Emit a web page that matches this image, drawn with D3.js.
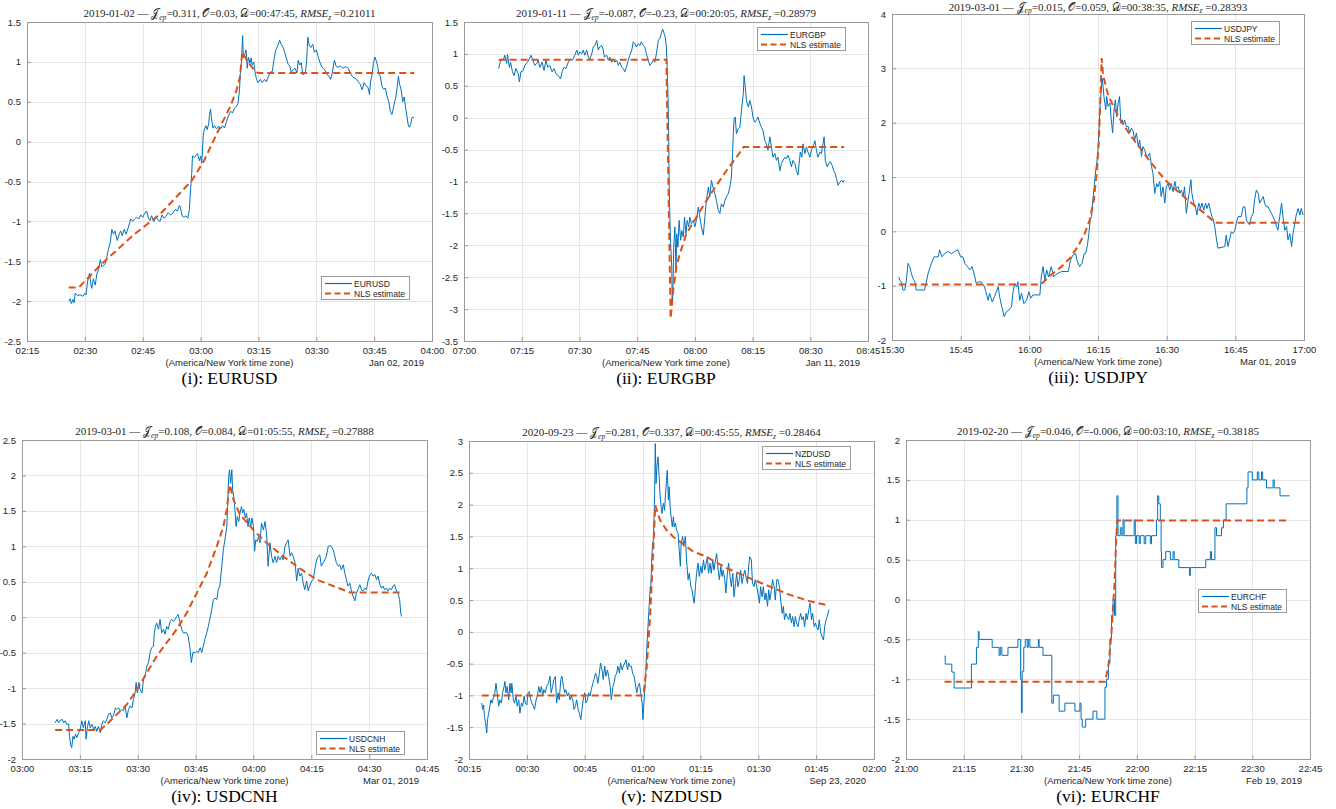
<!DOCTYPE html>
<html>
<head>
<meta charset="utf-8">
<script src="https://cdn.jsdelivr.net/npm/d3@7"></script>
<style>
  body { margin: 0; background: #fff; }
  .tick text { font-family: "Liberation Sans", Arial, Helvetica, sans-serif; font-size: 9.5px; fill: #262626; }
  .lbl { font-family: "Liberation Sans", Arial, Helvetica, sans-serif; font-size: 9.5px; fill: #262626; }
  .ttl { font-family: "Liberation Serif", "Times New Roman", serif; font-size: 11px; fill: #262626; }
  .cap { font-family: "Liberation Serif", "Times New Roman", serif; font-size: 17.5px; fill: #000; }
  .leg { font-family: "Liberation Sans", Arial, Helvetica, sans-serif; font-size: 8.5px; fill: #262626; }
</style>
</head>
<body>
<svg id="chart" width="1336" height="809"></svg>
<script>
// ---- data: [minutes after axis start, standardized value] ----
var pairNames = ["EURUSD", "EURGBP", "USDJPY", "USDCNH", "NZDUSD", "EURCHF"];
var romans = ["i", "ii", "iii", "iv", "v", "vi"];
var titleDates = ["2019-01-02", "2019-01-11", "2019-03-01", "2019-03-01", "2020-09-23", "2019-02-20"];
var jepVals = ["0.311", "-0.087", "0.015", "0.108", "0.281", "0.046"];
var oVals = ["0.03", "-0.23", "0.059", "0.084", "0.337", "-0.006"];
var dVals = ["00:47:45", "00:20:05", "00:38:35", "01:05:55", "00:45:55", "00:03:10"];
var rmseVals = ["0.21011", "0.28979", "0.28393", "0.27888", "0.28464", "0.38185"];
var axisDates = ["Jan 02, 2019", "Jan 11, 2019", "Mar 01, 2019", "Mar 01, 2019", "Sep 23, 2020", "Feb 19, 2019"];
var axisStarts = ["2019-01-02T02:15", "2019-01-11T07:00", "2019-03-01T15:30", "2019-03-01T03:00", "2020-09-23T00:15", "2019-02-19T21:00"];
var axisSpans = [105, 105, 90, 105, 105, 105];

var yTicks = [
  [-2.5, -2, -1.5, -1, -0.5, 0, 0.5, 1, 1.5],
  [-3.5, -3, -2.5, -2, -1.5, -1, -0.5, 0, 0.5, 1, 1.5],
  [-2, -1, 0, 1, 2, 3, 4],
  [-2, -1.5, -1, -0.5, 0, 0.5, 1, 1.5, 2, 2.5],
  [-2, -1.5, -1, -0.5, 0, 0.5, 1, 1.5, 2, 2.5, 3],
  [-2, -1.5, -1, -0.5, 0, 0.5, 1, 1.5, 2]
];

var eurusd = [[10.8,-2.0],[11.2,-1.97],[11.5,-2.03],[11.9,-1.98],[12.2,-2.02],[12.5,-1.9],[13.1,-1.93],[13.8,-1.92],[14.5,-1.94],[15.0,-1.9],[15.3,-1.92],[15.7,-1.76],[16.2,-1.65],[16.6,-1.8],[16.8,-1.84],[17.2,-1.72],[17.7,-1.8],[18.1,-1.66],[18.6,-1.6],[19.0,-1.48],[19.4,-1.57],[19.8,-1.55],[20.3,-1.53],[20.7,-1.45],[21.1,-1.35],[21.6,-1.26],[22.0,-1.1],[22.4,-1.16],[22.8,-1.12],[23.4,-1.24],[24.0,-1.15],[24.3,-1.12],[24.7,-1.18],[25.2,-1.1],[25.7,-1.16],[26.3,-1.07],[26.9,-0.97],[27.4,-1.0],[27.9,-0.97],[28.4,-0.95],[29.0,-0.97],[29.5,-0.92],[30.0,-0.95],[30.4,-0.91],[31.0,-0.87],[31.5,-0.96],[31.9,-0.99],[32.3,-0.93],[32.9,-1.0],[33.4,-0.94],[33.9,-0.98],[34.5,-1.0],[35.0,-0.92],[35.5,-0.96],[36.0,-0.94],[36.6,-0.89],[37.2,-0.92],[37.8,-0.9],[38.4,-0.85],[39.0,-0.87],[39.5,-0.8],[39.8,-0.83],[40.2,-0.93],[40.7,-0.95],[41.2,-0.93],[41.7,-0.96],[42.1,-0.85],[42.3,-0.68],[42.7,-0.4],[42.9,-0.18],[43.4,-0.2],[43.8,-0.17],[44.2,-0.15],[44.7,-0.24],[45.0,-0.18],[45.3,-0.27],[45.7,0.08],[46.0,0.16],[46.4,0.2],[46.7,0.15],[47.1,0.22],[47.3,0.33],[47.6,0.41],[47.8,0.3],[48.2,0.17],[48.6,0.2],[49.1,0.16],[49.7,0.19],[50.2,0.16],[50.7,0.2],[51.2,0.17],[51.7,0.25],[52.2,0.32],[52.8,0.38],[53.3,0.36],[53.8,0.42],[54.3,0.44],[54.7,0.48],[55.1,0.65],[55.3,0.85],[55.6,1.0],[55.9,1.33],[56.1,1.05],[56.5,1.1],[56.8,1.15],[57.1,0.92],[57.4,1.06],[57.8,0.98],[58.1,1.05],[58.4,0.96],[58.8,1.0],[59.1,0.88],[59.5,0.78],[59.9,0.74],[60.5,0.78],[61.0,0.74],[61.6,0.78],[62.1,0.75],[62.6,0.82],[63.1,0.87],[63.6,0.88],[64.1,1.05],[64.5,1.15],[65.0,1.2],[65.5,1.27],[65.9,1.22],[66.4,1.18],[66.8,1.12],[67.2,1.05],[67.7,0.97],[68.1,0.95],[68.5,0.87],[69.0,0.9],[69.5,0.92],[70.0,0.86],[70.3,1.02],[70.7,0.96],[71.1,0.99],[71.5,0.84],[71.9,0.85],[72.2,0.88],[72.5,1.0],[72.8,1.31],[73.2,1.2],[73.6,1.18],[74.1,1.22],[74.5,1.12],[75.0,1.15],[75.4,1.08],[75.9,1.0],[76.3,0.95],[76.7,0.92],[77.2,0.9],[77.8,0.84],[78.3,0.82],[78.7,0.78],[79.1,0.85],[79.7,1.02],[80.1,0.95],[80.6,0.93],[81.2,0.95],[81.9,0.92],[82.6,0.94],[83.3,0.92],[83.8,0.86],[84.3,0.82],[84.8,0.8],[85.3,0.79],[85.9,0.75],[86.4,0.72],[86.9,0.65],[87.4,0.74],[87.9,0.7],[88.4,0.68],[88.8,0.59],[89.1,0.76],[89.5,0.85],[89.8,0.98],[90.2,1.06],[90.5,1.02],[90.9,0.95],[91.2,0.85],[91.6,0.82],[92.0,0.7],[92.4,0.66],[92.9,0.67],[93.4,0.56],[93.8,0.5],[94.2,0.38],[94.6,0.34],[94.9,0.4],[95.3,0.5],[95.6,0.55],[96.0,0.7],[96.3,0.82],[96.6,0.72],[97.0,0.65],[97.4,0.5],[97.8,0.56],[98.1,0.45],[98.4,0.35],[98.8,0.22],[99.1,0.18],[99.5,0.22],[99.8,0.3],[100.4,0.31]];
var eurusdFit = [[10.8,-1.83],[13.4,-1.83],[19.0,-1.55],[27.6,-1.17],[34.5,-0.91],[42.7,-0.49],[45.9,-0.24],[49.6,0.14],[52.6,0.43],[54.3,0.64],[55.2,0.81],[55.8,1.12],[57.3,1.0],[59.0,0.89],[59.9,0.86],[100.4,0.86]];

var eurgbp = [[9.0,0.77],[9.4,0.87],[9.8,0.92],[10.2,0.9],[10.6,0.98],[11.1,0.85],[11.3,0.99],[11.8,0.79],[12.1,0.87],[12.6,0.72],[13.0,0.66],[13.5,0.77],[14.1,0.69],[14.4,0.56],[14.8,0.72],[15.4,0.74],[15.8,0.82],[16.5,0.87],[17.0,0.92],[17.4,0.98],[17.8,0.92],[18.4,0.82],[18.9,0.85],[19.3,0.9],[19.7,0.79],[20.3,0.87],[20.8,0.74],[21.3,0.9],[21.8,0.79],[22.3,0.82],[22.9,0.72],[23.4,0.77],[23.9,0.69],[24.5,0.66],[25.1,0.61],[25.5,0.72],[26.0,0.79],[26.5,0.77],[27.1,0.87],[27.7,0.92],[28.2,0.9],[28.8,0.98],[29.3,1.06],[29.7,0.98],[30.1,1.03],[30.6,1.0],[31.0,1.06],[31.4,0.98],[31.9,1.06],[32.3,0.95],[32.7,0.92],[33.2,1.0],[33.6,1.11],[34.0,1.13],[34.5,1.21],[34.9,1.06],[35.3,1.11],[35.8,1.13],[36.2,1.06],[36.5,0.95],[37.1,0.98],[37.5,0.9],[37.9,0.95],[38.4,0.87],[38.8,0.92],[39.2,0.87],[39.7,0.9],[40.1,0.82],[40.5,0.87],[41.0,0.79],[41.4,0.77],[41.8,0.72],[42.2,0.79],[42.7,0.9],[43.1,0.98],[43.6,1.06],[44.0,1.19],[44.4,1.16],[44.8,1.11],[45.3,1.16],[45.7,1.13],[46.1,1.19],[46.6,1.13],[47.0,1.11],[47.4,1.0],[47.9,0.9],[48.3,0.82],[48.7,0.85],[49.2,0.9],[49.6,0.87],[50.0,1.0],[50.5,1.21],[50.9,1.24],[51.3,1.32],[51.6,1.39],[51.9,1.34],[52.3,1.26],[52.6,1.11],[52.8,0.79],[53.0,0.38],[53.2,-0.25],[53.3,-0.88],[53.35,-1.14],[53.5,-1.56],[53.7,-1.97],[54.0,-2.34],[54.1,-2.86],[54.3,-2.76],[54.5,-2.03],[54.8,-1.71],[55.1,-2.4],[55.3,-1.82],[55.6,-2.03],[55.9,-1.61],[56.3,-1.92],[56.6,-1.77],[57.0,-1.87],[57.3,-1.56],[57.7,-1.82],[58.0,-1.61],[58.4,-1.71],[58.7,-1.56],[59.1,-1.66],[59.6,-1.61],[60.0,-1.71],[60.4,-1.61],[60.9,-1.4],[61.3,-1.56],[61.7,-1.71],[62.2,-1.84],[62.6,-1.56],[63.0,-1.3],[63.5,-1.09],[63.9,-1.24],[64.3,-0.98],[64.8,-1.11],[65.2,-1.19],[65.6,-1.3],[66.1,-1.45],[66.5,-1.5],[66.9,-1.35],[67.4,-1.4],[67.8,-1.3],[68.2,-1.24],[68.7,-1.19],[69.1,-1.09],[69.5,-0.93],[69.8,-0.56],[70.0,-0.25],[70.2,-0.02],[70.5,0.01],[70.8,-0.25],[71.3,-0.17],[71.7,-0.15],[72.1,0.11],[72.6,0.38],[72.8,0.66],[73.1,0.48],[73.4,0.27],[73.9,0.17],[74.3,0.27],[74.7,0.17],[75.2,-0.02],[75.6,-0.07],[76.0,-0.04],[76.4,0.01],[76.9,-0.09],[77.3,-0.15],[77.7,-0.2],[78.2,-0.36],[78.6,-0.41],[79.0,-0.51],[79.5,-0.3],[79.9,-0.46],[80.3,-0.62],[80.8,-0.56],[81.2,-0.67],[81.6,-0.62],[82.1,-0.83],[82.5,-0.72],[82.9,-0.67],[83.4,-0.62],[83.8,-0.64],[84.2,-0.59],[84.7,-0.67],[85.1,-0.77],[85.5,-0.67],[86.0,-0.72],[86.4,-0.83],[86.8,-0.9],[87.1,-0.72],[87.4,-0.54],[87.8,-0.62],[88.1,-0.41],[88.6,-0.56],[89.0,-0.46],[89.4,-0.54],[89.9,-0.62],[90.3,-0.51],[90.7,-0.46],[91.2,-0.36],[91.6,-0.51],[92.0,-0.62],[92.5,-0.54],[92.9,-0.56],[93.3,-0.41],[93.6,-0.3],[93.9,-0.67],[94.4,-0.77],[94.8,-0.72],[95.2,-0.69],[95.7,-0.75],[96.1,-0.83],[96.5,-0.88],[96.9,-0.98],[97.2,-1.06],[97.7,-1.01],[98.1,-0.98],[98.5,-1.01],[98.8,-0.98]];
var eurgbpFit = [[9.0,0.91],[52.6,0.91],[53.7,-3.15],[54.4,-2.7],[55.2,-2.34],[56.1,-2.13],[57.8,-1.82],[59.6,-1.64],[61.3,-1.47],[63.0,-1.3],[65.6,-1.06],[68.2,-0.83],[70.8,-0.62],[72.7,-0.46],[98.8,-0.46]];

var usdjpy = [[1.5,-0.84],[1.7,-0.9],[2.0,-0.93],[2.4,-1.08],[2.8,-1.08],[3.1,-0.93],[3.5,-0.59],[3.9,-0.65],[4.2,-0.77],[4.6,-0.87],[5.0,-0.93],[5.3,-1.08],[7.1,-1.08],[7.5,-0.93],[7.9,-0.77],[8.6,-0.59],[9.2,-0.47],[10.1,-0.47],[10.4,-0.34],[10.9,-0.47],[11.5,-0.41],[12.2,-0.37],[13.0,-0.41],[13.7,-0.37],[14.4,-0.34],[15.0,-0.47],[15.5,-0.47],[15.9,-0.59],[16.5,-0.65],[17.0,-0.71],[17.5,-0.65],[18.1,-0.84],[18.4,-0.96],[18.8,-0.93],[19.5,-0.93],[20.2,-1.02],[21.0,-1.27],[21.3,-1.14],[21.9,-1.3],[22.4,-1.2],[23.2,-1.02],[23.5,-1.2],[24.0,-1.39],[24.5,-1.57],[25.0,-1.48],[25.5,-1.45],[26.1,-1.39],[26.4,-1.14],[26.8,-0.96],[27.2,-1.02],[27.5,-0.93],[27.9,-1.27],[28.3,-1.14],[28.8,-1.33],[29.4,-1.27],[29.9,-1.11],[30.3,-1.23],[30.8,-1.17],[32.3,-1.17],[32.6,-0.84],[33.0,-0.65],[33.4,-0.9],[33.8,-0.71],[34.2,-0.84],[34.8,-0.65],[35.3,-0.84],[35.7,-0.8],[37.0,-0.74],[38.5,-0.74],[39.0,-0.53],[39.5,-0.44],[40.1,-0.41],[40.5,-0.56],[41.0,-0.65],[41.5,-0.59],[42.0,-0.41],[42.3,-0.41],[42.7,-0.25],[43.0,-0.04],[43.3,0.21],[43.6,0.27],[43.8,0.52],[44.1,0.76],[44.3,0.95],[44.6,1.19],[44.8,1.31],[45.0,1.5],[45.2,1.81],[45.4,2.24],[45.7,2.6],[45.9,2.82],[46.1,2.67],[46.3,2.48],[46.5,2.36],[46.7,2.24],[46.9,2.48],[47.2,2.3],[47.6,2.36],[47.9,2.05],[48.2,1.81],[48.5,2.24],[48.8,2.42],[49.1,2.11],[49.4,2.36],[49.7,2.48],[50.0,1.99],[50.3,2.05],[50.5,1.96],[50.8,2.05],[51.2,1.93],[51.6,1.93],[51.9,1.81],[52.3,1.9],[52.7,1.84],[53.0,1.68],[53.4,1.81],[53.8,1.56],[54.1,1.68],[54.5,1.38],[54.8,1.56],[55.2,1.5],[55.6,1.38],[55.9,1.38],[56.3,1.44],[56.7,1.19],[57.0,1.07],[57.4,0.7],[57.8,0.88],[58.1,0.82],[58.5,0.92],[58.8,0.64],[59.2,0.82],[59.6,0.52],[59.9,0.82],[60.3,0.88],[60.7,0.76],[61.0,0.88],[61.4,0.73],[61.8,0.92],[62.1,0.79],[62.5,0.82],[62.9,0.7],[63.2,0.76],[63.6,0.64],[63.9,0.82],[64.3,0.33],[64.7,0.58],[65.0,0.76],[65.3,0.95],[65.5,0.7],[65.9,0.52],[66.3,0.45],[66.6,0.3],[67.0,0.52],[67.4,0.42],[67.7,0.52],[68.1,0.39],[68.5,0.52],[68.8,0.42],[69.2,0.52],[69.6,0.36],[69.9,0.27],[70.2,0.21],[70.5,0.09],[70.9,-0.16],[71.2,-0.31],[72.7,-0.28],[73.0,-0.07],[73.4,-0.28],[73.8,-0.13],[74.1,-0.01],[74.5,-0.04],[74.9,0.02],[75.2,0.15],[75.6,0.27],[76.3,0.27],[76.7,0.45],[77.1,0.45],[77.4,0.21],[77.8,0.15],[78.1,0.12],[78.5,0.27],[78.9,0.33],[79.2,0.58],[79.6,0.76],[80.0,0.7],[80.3,0.52],[80.7,0.58],[81.1,0.64],[81.4,0.52],[81.8,0.45],[82.2,0.45],[82.5,0.39],[82.9,0.33],[83.2,0.27],[83.6,0.21],[84.0,0.09],[84.3,0.02],[84.7,0.27],[85.1,0.52],[85.4,0.27],[85.8,0.02],[86.2,0.09],[86.5,-0.16],[86.9,-0.04],[87.3,-0.28],[87.6,-0.04],[88.0,0.15],[88.3,0.3],[88.7,0.42],[89.1,0.3],[89.4,0.42],[89.8,0.3]];
var usdjpyFit = [[1.5,-0.98],[32.5,-0.98],[34.8,-0.8],[37.0,-0.65],[38.8,-0.5],[40.6,-0.28],[42.1,-0.04],[43.2,0.21],[44.1,0.58],[44.7,1.07],[45.2,1.68],[45.5,2.42],[45.8,3.19],[46.1,2.88],[47.2,2.51],[48.7,2.24],[50.1,2.02],[52.3,1.74],[54.5,1.5],[56.7,1.25],[59.6,0.95],[62.5,0.73],[65.4,0.52],[68.3,0.33],[70.5,0.16],[90.0,0.16]];

var usdcnh = [[8.6,-1.49],[9.1,-1.44],[9.5,-1.49],[9.9,-1.46],[10.4,-1.44],[10.8,-1.49],[11.2,-1.46],[11.6,-1.51],[12.1,-1.51],[12.3,-1.68],[12.7,-1.82],[12.9,-1.84],[13.2,-1.68],[13.5,-1.72],[13.9,-1.65],[14.2,-1.7],[14.7,-1.63],[15.1,-1.58],[15.5,-1.46],[15.9,-1.56],[16.4,-1.46],[16.6,-1.72],[17.0,-1.54],[17.3,-1.46],[17.7,-1.56],[18.1,-1.51],[18.6,-1.58],[19.0,-1.54],[19.4,-1.61],[19.8,-1.54],[20.3,-1.63],[20.7,-1.51],[21.1,-1.46],[21.6,-1.49],[22.0,-1.44],[22.4,-1.37],[22.9,-1.35],[23.3,-1.42],[23.7,-1.39],[24.2,-1.28],[24.6,-1.3],[25.0,-1.28],[25.5,-1.32],[25.9,-1.3],[26.3,-1.32],[26.7,-1.25],[27.2,-1.42],[27.6,-1.3],[28.0,-1.25],[28.5,-1.28],[28.9,-1.16],[29.3,-1.07],[29.6,-0.92],[29.9,-1.07],[30.3,-0.92],[30.6,-1.02],[31.1,-1.07],[31.5,-0.88],[31.9,-0.83],[32.4,-0.69],[32.8,-0.64],[33.2,-0.5],[33.6,-0.43],[34.1,-0.41],[34.3,-0.22],[34.6,-0.13],[34.9,-0.08],[35.4,-0.17],[35.8,-0.03],[36.2,-0.22],[36.7,-0.17],[37.1,-0.24],[37.5,-0.13],[37.9,-0.17],[38.4,-0.06],[38.8,-0.03],[39.3,-0.06],[39.7,-0.03],[40.1,0.01],[40.5,0.04],[40.9,-0.06],[41.4,-0.17],[41.8,-0.22],[42.7,-0.22],[43.1,-0.27],[43.6,-0.46],[43.9,-0.64],[44.3,-0.5],[44.9,-0.5],[45.3,-0.48],[45.7,-0.5],[46.2,-0.43],[46.6,-0.5],[47.0,-0.41],[47.4,-0.31],[47.9,-0.22],[48.3,-0.13],[48.7,-0.03],[49.2,0.11],[49.6,0.25],[50.0,0.27],[50.5,0.25],[50.9,0.39],[51.3,0.44],[51.8,0.72],[52.2,0.95],[52.6,1.09],[53.1,1.28],[53.3,1.56],[53.6,1.99],[53.8,2.08],[54.1,1.89],[54.4,2.08],[54.6,1.8],[55.0,1.66],[55.2,1.52],[55.5,1.28],[55.8,1.42],[56.2,1.35],[56.5,1.47],[56.9,1.56],[57.2,1.47],[57.5,1.52],[57.9,1.4],[58.2,1.47],[58.6,1.28],[58.9,1.4],[59.3,1.28],[59.6,1.4],[60.0,1.28],[60.3,0.93],[60.6,1.09],[61.0,1.07],[61.3,1.14],[61.7,1.05],[62.1,1.33],[62.6,1.23],[63.0,1.35],[63.4,1.19],[63.8,0.72],[64.3,1.05],[64.7,0.86],[65.1,0.77],[65.6,0.86],[66.0,0.77],[66.4,0.86],[66.9,0.81],[67.3,0.86],[67.7,0.81],[68.2,1.0],[68.6,1.05],[69.0,1.09],[69.5,0.86],[69.9,0.91],[70.3,0.86],[70.8,0.77],[71.2,0.51],[71.6,0.69],[72.0,0.58],[72.5,0.62],[72.9,0.48],[73.3,0.39],[73.8,0.51],[74.2,0.37],[74.6,0.44],[75.1,0.51],[75.5,0.53],[75.9,0.67],[76.4,0.81],[76.8,0.86],[77.2,0.88],[77.6,0.72],[78.1,0.77],[78.5,0.81],[78.9,0.86],[79.4,1.0],[79.8,1.01],[80.2,1.0],[80.7,0.95],[81.1,0.86],[81.5,0.77],[82.0,0.72],[82.4,0.74],[82.8,0.67],[83.3,0.74],[83.7,0.62],[84.1,0.53],[84.5,0.44],[85.0,0.48],[85.4,0.37],[85.8,0.3],[86.3,0.23],[86.7,0.34],[87.1,0.39],[87.6,0.46],[88.0,0.39],[88.4,0.37],[88.9,0.41],[89.3,0.39],[89.7,0.51],[90.2,0.6],[90.6,0.62],[91.0,0.58],[91.5,0.6],[91.9,0.53],[92.3,0.58],[92.8,0.46],[93.2,0.41],[93.6,0.44],[94.0,0.39],[94.5,0.41],[94.9,0.37],[95.3,0.41],[95.8,0.39],[96.2,0.44],[96.6,0.46],[97.1,0.37],[97.5,0.34],[97.9,0.25],[98.2,0.06],[98.4,0.01]];
var usdcnhFit = [[8.6,-1.59],[20.3,-1.59],[22.0,-1.51],[24.6,-1.37],[27.2,-1.23],[29.8,-1.02],[32.4,-0.78],[34.9,-0.55],[37.5,-0.36],[40.1,-0.17],[42.7,0.06],[45.3,0.34],[47.9,0.62],[50.5,1.0],[52.2,1.28],[53.1,1.52],[53.7,1.82],[53.9,1.87],[54.8,1.66],[56.5,1.45],[60.0,1.23],[63.4,1.05],[67.7,0.86],[72.0,0.69],[76.4,0.53],[80.7,0.44],[85.0,0.35],[97.9,0.35]];

var nzdusd = [[3.3,-1.12],[3.5,-1.22],[3.8,-1.15],[4.0,-1.33],[4.3,-1.43],[4.6,-1.59],[4.8,-1.38],[5.1,-1.28],[5.4,-1.17],[5.7,-1.07],[6.0,-1.12],[6.3,-1.04],[6.7,-0.96],[7.0,-0.81],[7.3,-0.96],[7.7,-1.17],[8.0,-1.07],[8.4,-1.12],[8.7,-0.96],[9.1,-0.86],[9.3,-0.78],[9.6,-0.96],[9.9,-0.86],[10.3,-1.07],[10.6,-0.81],[10.9,-0.96],[11.1,-0.81],[11.5,-1.07],[11.8,-1.12],[12.2,-1.01],[12.5,-1.17],[12.9,-1.07],[13.2,-1.28],[13.6,-1.12],[13.9,-1.17],[14.3,-1.01],[14.6,-1.12],[15.0,-1.15],[15.3,-0.96],[15.6,-0.94],[16.0,-1.07],[16.3,-1.12],[16.7,-1.17],[17.0,-1.22],[17.4,-1.07],[17.7,-1.01],[18.1,-0.86],[18.4,-0.96],[18.8,-0.86],[19.1,-1.01],[19.4,-0.91],[19.8,-0.96],[20.1,-0.86],[20.6,-0.81],[21.0,-0.7],[21.3,-0.96],[21.7,-0.86],[22.0,-0.75],[22.4,-0.7],[22.7,-1.12],[23.1,-0.96],[23.4,-1.07],[23.8,-0.75],[24.1,-0.7],[24.5,-0.86],[24.8,-0.96],[25.1,-0.91],[25.5,-1.01],[25.8,-0.96],[26.2,-1.07],[26.5,-1.01],[26.9,-1.07],[27.2,-1.22],[27.6,-1.17],[27.9,-1.07],[28.3,-1.22],[28.6,-1.28],[29.0,-1.38],[29.3,-1.22],[29.6,-1.07],[30.0,-0.96],[30.3,-1.12],[30.7,-1.07],[31.0,-0.96],[31.4,-1.01],[31.7,-0.91],[32.1,-0.81],[32.4,-0.75],[32.8,-0.65],[33.1,-0.7],[33.4,-0.81],[33.8,-0.65],[34.1,-0.49],[34.5,-0.6],[34.8,-0.75],[35.2,-0.54],[35.5,-0.7],[35.9,-0.6],[36.2,-0.7],[36.6,-0.86],[36.9,-1.07],[37.3,-0.86],[37.6,-0.81],[37.9,-0.7],[38.3,-0.65],[38.6,-0.54],[39.0,-0.65],[39.3,-0.49],[39.7,-0.6],[40.0,-0.54],[40.4,-0.49],[40.7,-0.44],[41.1,-0.6],[41.4,-0.49],[41.7,-0.54],[42.1,-0.54],[42.4,-0.65],[42.8,-0.7],[43.1,-0.81],[43.5,-0.96],[43.8,-0.86],[44.2,-0.81],[44.5,-0.96],[44.9,-1.12],[45.1,-1.38],[45.4,-1.07],[45.7,-0.81],[45.9,-0.54],[46.2,-0.13],[46.4,0.08],[46.7,0.4],[47.0,0.71],[47.1,0.61],[47.4,1.18],[47.6,1.39],[47.8,1.44],[48.1,2.07],[48.3,2.96],[48.5,2.33],[48.7,2.59],[49.0,2.75],[49.3,2.44],[49.5,2.18],[49.8,1.97],[50.0,1.86],[50.4,2.02],[50.7,1.91],[50.9,2.12],[51.2,2.38],[51.4,2.54],[51.7,2.07],[51.9,2.28],[52.2,1.91],[52.5,1.76],[52.7,1.65],[53.0,1.81],[53.2,1.65],[53.5,1.71],[53.8,1.6],[54.2,1.55],[54.5,1.29],[54.8,1.03],[55.0,1.39],[55.4,1.5],[55.7,1.34],[56.1,1.5],[56.4,1.13],[56.8,0.82],[57.1,0.92],[57.5,0.71],[57.8,0.66],[58.2,0.5],[58.4,0.45],[58.7,0.71],[59.0,0.92],[59.4,1.08],[59.7,0.87],[60.1,1.03],[60.4,0.92],[60.8,1.13],[61.1,0.97],[61.5,1.08],[61.8,1.18],[62.1,0.92],[62.5,1.08],[62.8,0.92],[63.2,1.13],[63.5,0.97],[63.9,1.13],[64.2,1.23],[64.6,0.97],[64.9,0.82],[65.3,1.03],[65.6,0.87],[65.9,0.97],[66.3,0.82],[66.6,0.61],[67.0,0.92],[67.3,1.08],[67.7,0.87],[68.0,0.71],[68.4,0.92],[68.7,0.55],[69.1,0.76],[69.4,0.92],[69.7,0.71],[70.1,0.82],[70.4,0.97],[70.8,0.76],[71.1,0.87],[71.5,0.97],[71.8,0.87],[72.2,0.76],[72.5,1.03],[72.8,1.18],[73.2,1.13],[73.5,0.76],[73.9,0.71],[74.2,0.82],[74.6,0.71],[74.9,0.61],[75.3,0.45],[75.6,0.71],[76.0,0.55],[76.3,0.71],[76.7,0.5],[77.0,0.61],[77.4,0.4],[77.7,0.66],[78.0,0.5],[78.4,0.66],[78.7,0.82],[79.1,0.71],[79.4,0.5],[79.8,0.82],[80.1,0.82],[80.5,0.71],[80.8,0.5],[81.2,0.29],[81.5,0.4],[81.8,0.19],[82.2,0.29],[82.5,0.24],[82.9,0.19],[83.2,0.29],[83.6,0.14],[83.9,0.24],[84.3,0.08],[84.6,0.24],[84.9,0.14],[85.3,0.08],[85.6,0.19],[86.0,0.29],[86.3,0.19],[86.7,0.24],[87.0,0.08],[87.4,0.29],[87.7,0.19],[88.1,0.35],[88.4,0.45],[88.8,0.19],[89.1,0.29],[89.5,0.08],[89.8,0.14],[90.1,0.08],[90.5,0.03],[90.8,0.19],[91.2,-0.02],[91.5,-0.07],[91.9,-0.13],[92.2,0.08],[92.6,0.19],[92.9,0.24],[93.3,0.35]];
var nzdusdFit = [[3.3,-1.0],[45.2,-1.0],[46.1,-0.54],[47.0,0.29],[47.8,1.34],[48.3,1.99],[49.5,1.76],[51.2,1.6],[53.0,1.49],[58.2,1.26],[61.6,1.18],[66.8,1.0],[72.9,0.84],[78.0,0.71],[83.2,0.58],[88.4,0.48],[92.7,0.42]];

// EURCHF quotes move in 0.1 steps, so this one is drawn as a step series
var eurchf = [[10.0,-0.71],[10.2,-0.81],[11.9,-0.91],[12.5,-1.11],[17.0,-0.81],[18.3,-0.6],[18.8,-0.4],[19.0,-0.5],[22.4,-0.6],[24.2,-0.7],[24.5,-0.6],[24.9,-0.7],[26.5,-0.6],[29.1,-0.5],[29.8,-1.0],[30.0,-1.42],[30.2,-0.9],[30.6,-0.6],[31.0,-0.5],[31.5,-0.6],[31.8,-0.5],[32.2,-0.6],[34.4,-0.5],[34.6,-0.6],[35.6,-0.7],[37.9,-1.3],[38.3,-1.2],[39.8,-1.4],[41.3,-1.3],[43.9,-1.4],[45.2,-1.3],[45.5,-1.5],[45.8,-1.6],[46.7,-1.5],[48.6,-1.4],[49.6,-1.5],[51.7,-1.1],[52.1,-1.0],[52.6,-0.8],[53.0,-0.5],[53.4,-0.2],[53.8,0.0],[54.2,-0.2],[54.5,0.8],[54.8,1.3],[55.1,0.8],[55.7,0.9],[56.1,0.8],[56.4,1.0],[56.7,0.8],[59.3,1.0],[59.6,0.7],[59.9,0.8],[60.6,0.7],[60.9,0.8],[61.9,0.7],[62.3,0.8],[63.5,0.7],[63.8,0.8],[65.1,1.0],[65.4,1.3],[65.7,1.2],[66.1,1.0],[66.3,0.6],[66.4,0.4],[66.8,0.5],[67.5,0.6],[68.7,0.5],[69.4,0.6],[69.7,0.5],[70.9,0.4],[73.7,0.3],[73.9,0.4],[77.9,0.5],[79.1,0.6],[79.4,0.5],[80.3,0.9],[80.7,0.8],[82.0,0.9],[82.5,1.0],[83.2,1.2],[88.6,1.4],[88.9,1.6],[90.0,1.5],[91.3,1.6],[91.7,1.5],[92.4,1.6],[92.7,1.5],[93.7,1.4],[95.4,1.5],[95.7,1.4],[97.2,1.3],[99.7,1.3]];
var eurchfFit = [[10.0,-1.03],[51.7,-1.03],[52.6,-0.84],[53.4,-0.42],[54.2,0.21],[54.6,0.71],[54.9,0.99],[99.7,0.99]];

var seriesData = [eurusd, eurgbp, usdjpy, usdcnh, nzdusd, eurchf];
var fitData = [eurusdFit, eurgbpFit, usdjpyFit, usdcnhFit, nzdusdFit, eurchfFit];

// ---- layout (plot area of every subplot, in page pixels) ----
var boxes = [
  {x: 27, y: 22, w: 405, h: 319},
  {x: 464, y: 22, w: 404, h: 319},
  {x: 892, y: 14, w: 412, h: 326},
  {x: 22, y: 440, w: 405, h: 319},
  {x: 469, y: 441, w: 405, h: 318},
  {x: 906, y: 440, w: 404, h: 319}
];
var legendPos = [[294, 254], [293, 5], [299, 7], [294, 291], [293, 5], [292, 149]];

var blue = "#0072BD", orange = "#D95319", axisGray = "#9a9a9a";
var svg = d3.select("#chart");
var parseStart = d3.timeParse("%Y-%m-%dT%H:%M");

svg.append("rect").attr("width", 1336).attr("height", 809).attr("fill", "#fff");

pairNames.forEach(function (pair, i) {
  var b = boxes[i];
  var t0 = parseStart(axisStarts[i]);
  var toDate = function (m) { return new Date(t0.getTime() + m * 60000); };

  var x = d3.scaleTime().domain([t0, toDate(axisSpans[i])]).range([0, b.w]);
  var yt = yTicks[i];
  var y = d3.scaleLinear().domain([yt[0], yt[yt.length - 1]]).range([b.h, 0]);
  var xt = x.ticks(d3.timeMinute.every(15));

  var g = svg.append("g").attr("transform", "translate(" + b.x + "," + b.y + ")");

  g.append("clipPath").attr("id", "clip" + i)
    .append("rect").attr("width", b.w).attr("height", b.h);

  // grid
  g.append("g").attr("class", "gridx")
    .selectAll("line").data(xt).join("line")
    .attr("x1", function (d) { return Math.round(x(d)) + 0.5; })
    .attr("x2", function (d) { return Math.round(x(d)) + 0.5; })
    .attr("y1", 0).attr("y2", b.h)
    .attr("stroke", "#e6e6e6");
  g.append("g").attr("class", "gridy")
    .selectAll("line").data(yt).join("line")
    .attr("y1", function (d) { return Math.round(y(d)) + 0.5; })
    .attr("y2", function (d) { return Math.round(y(d)) + 0.5; })
    .attr("x1", 0).attr("x2", b.w)
    .attr("stroke", "#e6e6e6");

  // axes (ticks point inwards, like the original)
  var xAxis = g.append("g").attr("class", "x axis")
    .attr("transform", "translate(0," + b.h + ")")
    .call(d3.axisBottom(x).tickValues(xt).tickSize(-4).tickPadding(6)
      .tickFormat(d3.timeFormat("%H:%M")));
  var yAxis = g.append("g").attr("class", "y axis")
    .call(d3.axisLeft(y).tickValues(yt).tickSize(-4).tickPadding(6)
      .tickFormat(function (d) { return String(d); }));
  [xAxis, yAxis].forEach(function (a) {
    a.select(".domain").remove();
    a.selectAll(".tick line").attr("stroke", axisGray);
  });
  xAxis.selectAll(".tick text").attr("dy", "0.71em");

  g.append("rect")
    .attr("x", 0.5).attr("y", 0.5).attr("width", b.w).attr("height", b.h)
    .attr("fill", "none").attr("stroke", axisGray).attr("stroke-width", 1);

  // series + NLS estimate
  var line = d3.line()
    .x(function (d) { return x(toDate(d[0])); })
    .y(function (d) { return y(d[1]); })
    .curve(pair === "EURCHF" ? d3.curveStepAfter : d3.curveLinear);
  var fitLine = d3.line()
    .x(function (d) { return x(toDate(d[0])); })
    .y(function (d) { return y(d[1]); });

  var plot = g.append("g").attr("clip-path", "url(#clip" + i + ")");
  plot.append("path").datum(seriesData[i])
    .attr("d", line)
    .attr("fill", "none").attr("stroke", blue).attr("stroke-width", 1)
    .attr("stroke-linejoin", "round");
  plot.append("path").datum(fitData[i])
    .attr("d", fitLine)
    .attr("fill", "none").attr("stroke", orange).attr("stroke-width", 2)
    .attr("stroke-dasharray", "7,4");

  // title
  var parts = [
    {t: titleDates[i] + " \u2014 "},
    {t: "\uD835\uDCA5"}, {t: "ep", sub: true},
    {t: "=" + jepVals[i] + ", "},
    {t: "\uD835\uDCAA"}, {t: "=" + oVals[i] + ", "},
    {t: "\uD835\uDC9F"}, {t: "=" + dVals[i] + ", "},
    {t: "RMSE", it: true}, {t: "z", sub: true},
    {t: " =" + rmseVals[i]}
  ];
  var title = g.append("text").attr("class", "ttl")
    .attr("x", b.w / 2).attr("y", i == 2 ? -3.5 : -5).attr("text-anchor", "middle");
  var wasSub = false;
  parts.forEach(function (p) {
    var ts = title.append("tspan").text(p.t);
    if (p.sub) {
      ts.attr("dy", 2.5).attr("font-size", "7.5px").attr("font-style", "italic");
    } else if (wasSub) {
      ts.attr("dy", -2.5);
    }
    if (p.it) ts.attr("font-style", "italic");
    wasSub = !!p.sub;
  });

  // x label, date and caption
  g.append("text").attr("class", "lbl")
    .attr("x", b.w / 2).attr("y", b.h + 25).attr("text-anchor", "middle")
    .text("(America/New York time zone)");
  g.append("text").attr("class", "lbl")
    .attr("x", b.w - 8).attr("y", b.h + 25).attr("text-anchor", "end")
    .text(axisDates[i]);
  g.append("text").attr("class", "cap")
    .attr("x", b.w / 2).attr("y", b.h + 43).attr("text-anchor", "middle")
    .text("(" + romans[i] + "): " + pair);

  // legend
  var lg = g.append("g")
    .attr("transform", "translate(" + legendPos[i][0] + "," + legendPos[i][1] + ")");
  lg.append("rect").attr("x", 0.5).attr("y", 0.5).attr("width", 88).attr("height", 23)
    .attr("fill", "#fff").attr("stroke", axisGray);
  var rows = [{label: pair, color: blue, dash: null, w: 1.2},
              {label: "NLS estimate", color: orange, dash: "6,3.5", w: 2}];
  rows.forEach(function (r, k) {
    var yy = 7.5 + k * 10;
    lg.append("line").attr("x1", 4).attr("x2", 31).attr("y1", yy).attr("y2", yy)
      .attr("stroke", r.color).attr("stroke-width", r.w)
      .attr("stroke-dasharray", r.dash);
    lg.append("text").attr("class", "leg").attr("x", 33).attr("y", yy + 3).text(r.label);
  });
});
</script>
</body>
</html>
